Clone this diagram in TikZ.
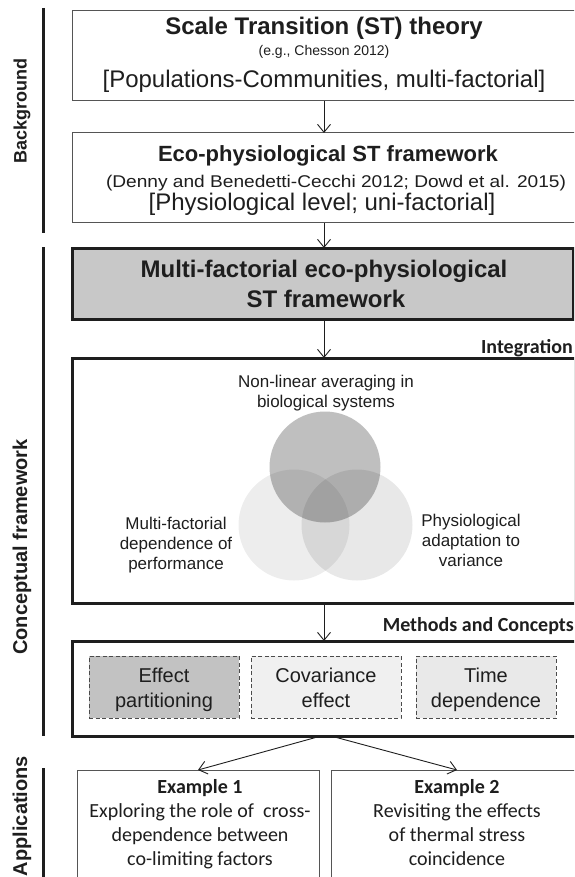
\documentclass[tikz,border=0pt]{standalone}
\usepackage{graphicx}
\usepackage{fontspec}
\setmainfont{Liberation Sans}
\newfontfamily\calfont{Carlito}
\usetikzlibrary{arrows.meta}
\definecolor{ink}{HTML}{1E1E1E}
\definecolor{thinline}{HTML}{555555}
\definecolor{boxgray}{HTML}{C8C8C8}
\definecolor{effgray}{HTML}{C2C2C2}
\definecolor{covgray}{HTML}{F0F0F0}
\definecolor{timegray}{HTML}{E9E9E9}
\tikzset{
  box/.style={draw=thinline, line width=1pt, inner sep=0pt, outer sep=0pt, anchor=north west},
  thickbox/.style={draw=ink, line width=3pt, inner sep=0pt, outer sep=0pt, anchor=north west},
  dashbox/.style={draw=ink!80, dashed, dash pattern=on 4pt off 2.5pt, line width=0.9pt, inner sep=0pt, outer sep=0pt, anchor=north west, minimum height=62pt},
  conn/.style={draw=ink, line width=0.9pt, -{Straight Barb[length=8pt,width=13pt]}},
  sidebar/.style={draw=ink, line width=3pt},
  lbl/.style={anchor=base, inner sep=0pt, text=ink},
  side/.style={rotate=90, inner sep=0pt, text=ink, font=\bfseries},
}
\newcommand{\fsz}[1]{\fontsize{#1}{#1}\selectfont}
\begin{document}
\begin{tikzpicture}[x=1pt,y=-1pt]
\useasboundingbox (0,0) rectangle (574,877);
\clip (0,0) rectangle (574,877);
\fill[white] (0,0) rectangle (574,877);

% side bars
\draw[sidebar] (43,8) -- (43,233);
\draw[sidebar] (43,247) -- (43,736);
\draw[sidebar] (43,768) -- (43,880);
\node[side] (sbg) at (22,111) {\fsz{18}Background};
\node[side] (scf) at (22,547) {\fsz{20}Conceptual framework};
\node[side] (sap) at (22,816) {\fsz{20}Applications};

% background boxes
\node[box, minimum width=504pt, minimum height=90pt] (b1) at (72,11) {};
\node[lbl] (b1t) at (324,35) {\fsz{24}\bfseries Scale Transition (ST) theory};
\node[lbl] (b1s) at (324,56) {\fsz{14}(e.g., Chesson 2012)};
\node[lbl] (b1b) at (324,88) {\fsz{24}[Populations-Communities, multi-factorial]};

\node[box, minimum width=504pt, minimum height=90pt] (b2) at (72,133) {};
\node[lbl] (b2t) at (328,162) {\fsz{22}\bfseries Eco-physiological ST framework};
\node[lbl] (b2s) at (336,188) {\resizebox{460pt}{\height}{\fsz{17}(Denny and Benedetti-Cecchi 2012; Dowd et al. 2015)}};
\node[lbl] (b2b) at (322,211) {\fsz{24}[Physiological level; uni-factorial]};

% multi-factorial box
\node[thickbox, fill=boxgray, minimum width=501pt, minimum height=71pt] (b3) at (72,248) {};
\node[lbl] (b3a) at (324,277) {\fsz{24}\bfseries Multi-factorial eco-physiological};
\node[lbl] (b3b) at (326,307) {\fsz{24}\bfseries ST framework};

% integration
\node[lbl, anchor=base east] (intl) at (573,353) {\calfont\fsz{20}\bfseries Integration};
\node[thickbox, minimum width=503pt, minimum height=245pt] (ig) at (72,358) {};
\fill[black, fill opacity=0.07] (294,525) circle[radius=55.5];
\fill[black, fill opacity=0.09] (357,525) circle[radius=55.5];
\fill[black, fill opacity=0.25] (325,467) circle[radius=55.5];
\node[lbl] (n1) at (326,387) {\fsz{17}Non-linear averaging in};
\node[lbl] (n2) at (326,407) {\fsz{17}biological systems};
\node[lbl] (m1) at (176,529) {\fsz{17}Multi-factorial};
\node[lbl] (m2) at (176,549) {\fsz{17}dependence of};
\node[lbl] (m3) at (176,569) {\fsz{17}performance};
\node[lbl] (p1) at (471,526) {\fsz{17}Physiological};
\node[lbl] (p2) at (471,546) {\fsz{17}adaptation to};
\node[lbl] (p3) at (471,566) {\fsz{17}variance};

% methods
\node[lbl, anchor=base east] (mcl) at (574,631) {\calfont\fsz{20}\bfseries Methods and Concepts};
\node[thickbox, minimum width=506pt, minimum height=95pt] (mc) at (72,641) {};
\node[dashbox, fill=effgray, minimum width=150pt] (d1) at (89,656) {};
\node[dashbox, fill=covgray, minimum width=150pt] (d2) at (251,656) {};
\node[dashbox, fill=timegray, minimum width=140pt] (d3) at (416,656) {};
\node[lbl] (d1a) at (d1.center |- 0,682) {\fsz{20}Effect};
\node[lbl] (d1b) at (d1.center |- 0,707) {\fsz{20}partitioning};
\node[lbl] (d2a) at (d2.center |- 0,682) {\fsz{20}Covariance};
\node[lbl] (d2b) at (d2.center |- 0,707) {\fsz{20}effect};
\node[lbl] (d3a) at (d3.center |- 0,682) {\fsz{20}Time};
\node[lbl] (d3b) at (d3.center |- 0,707) {\fsz{20}dependence};

% applications
\node[box, minimum width=242pt, minimum height=130pt] (e1) at (77,770) {};
\node[box, minimum width=252pt, minimum height=130pt] (e2) at (331,770) {};
\node[lbl] (e1a) at (200,793) {\calfont\fsz{20}\bfseries Example 1};
\node[lbl] (e1b) at (200,817) {\calfont\fsz{20}Exploring the role of\ \ cross-};
\node[lbl] (e1c) at (200,841) {\calfont\fsz{20}dependence between};
\node[lbl] (e1d) at (200,865) {\calfont\fsz{20}co-limiting factors};
\node[lbl] (e2a) at (457,793) {\calfont\fsz{20}\bfseries Example 2};
\node[lbl] (e2b) at (457,817) {\calfont\fsz{20}Revisiting the effects};
\node[lbl] (e2c) at (457,841) {\calfont\fsz{20}of thermal stress};
\node[lbl] (e2d) at (457,865) {\calfont\fsz{20}coincidence};

% connectors
\draw[conn] (b1.south) -- (b2.north);
\draw[conn] (b2.south) -- (b2.south |- b3.north);
\draw[conn] (b1.south |- b3.south) -- (b1.south |- ig.north);
\draw[conn] (b1.south |- ig.south) -- (b1.south |- mc.north);
\draw[conn] (mc.south) ++(-4,0) coordinate (ms1) -- (e1.north);
\draw[conn] (mc.south) ++(6,0) coordinate (ms2) -- (e2.north);
\end{tikzpicture}
\end{document}
